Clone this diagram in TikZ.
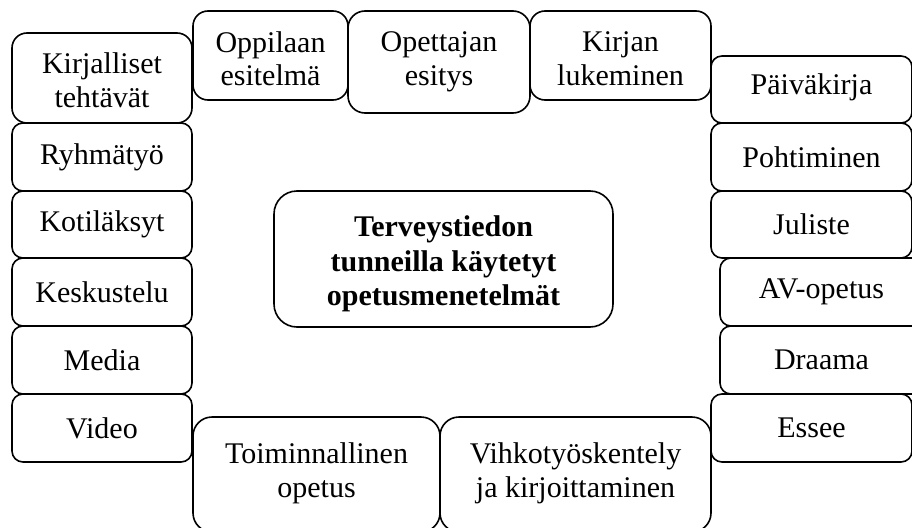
\documentclass[tikz,border=0pt]{standalone}
\usepackage{fontspec}
\setmainfont{Liberation Serif}
\begin{document}
\begin{tikzpicture}[x=1pt,y=-1pt,
  mbox/.style={draw=black, line width=1.6pt, inner sep=0pt},
  mtext/.style={align=center, inner sep=0pt, font=\fontsize{30}{33.5}\selectfont},
  hubtext/.style={align=center, inner sep=0pt, font=\fontsize{30}{34.5}\selectfont\bfseries}]
\useasboundingbox (0,0) rectangle (912,527);
\clip (0,0) rectangle (912,527);
% box from (x1,y1) to (x2,y2), corner radius r, text lowered by dy
\newcommand\methodbox[9][mtext]{%
  \node[mbox, rounded corners=#7, minimum width=#5-#3, minimum height=#6-#4]
    (#2) at ({(#3+#5)/2},{(#4+#6)/2}) {};
  \node[#1] (#2-t) at ([yshift=-#8pt]#2.center) {#9};}
% left column
\methodbox{kirj}{12}{33}{192}{123}{15}{2}{Kirjalliset\\tehtävät}
\methodbox{ryhma}{12}{123}{192}{191}{11}{0}{Ryhmätyö}
\methodbox{koti}{12}{191}{192}{258}{11}{0}{Kotiläksyt}
\methodbox{kesk}{12}{258}{192}{326}{11}{0}{Keskustelu}
\methodbox{media}{12}{326}{192}{394}{11}{0}{Media}
\methodbox{video}{12}{394}{192}{462}{11}{0}{Video}
% top row
\methodbox{oppi}{193}{11}{348}{100}{15}{3}{Oppilaan\\esitelmä}
\methodbox{opet}{348}{11}{530}{113}{17}{0}{Opettajan\\esitys}
\methodbox{kirjan}{530}{11}{711}{100}{15}{3}{Kirjan\\lukeminen}
% right column
\methodbox{paiva}{711}{56}{912}{123}{11}{-2}{Päiväkirja}
\methodbox{poht}{711}{123}{912}{191}{11}{0}{Pohtiminen}
\methodbox{jul}{711}{191}{912}{258}{11}{0}{Juliste}
\methodbox{av}{720}{258}{923}{326}{11}{0}{AV-opetus}
\methodbox{draama}{720}{326}{923}{394}{11}{0}{Draama}
\methodbox{essee}{711}{394}{912}{462}{11}{0}{Essee}
% bottom row
\methodbox{toim}{193}{417}{440}{532}{19}{-1}{Toiminnallinen\\opetus}
\methodbox{vihko}{440}{417}{711}{532}{19}{-1}{Vihkotyöskentely\\ja kirjoittaminen}
% centre
\methodbox[hubtext]{hubnode}{274}{191}{613}{327}{23}{5}{Terveystiedon\\tunneilla käytetyt\\opetusmenetelmät}
\end{tikzpicture}
\end{document}
